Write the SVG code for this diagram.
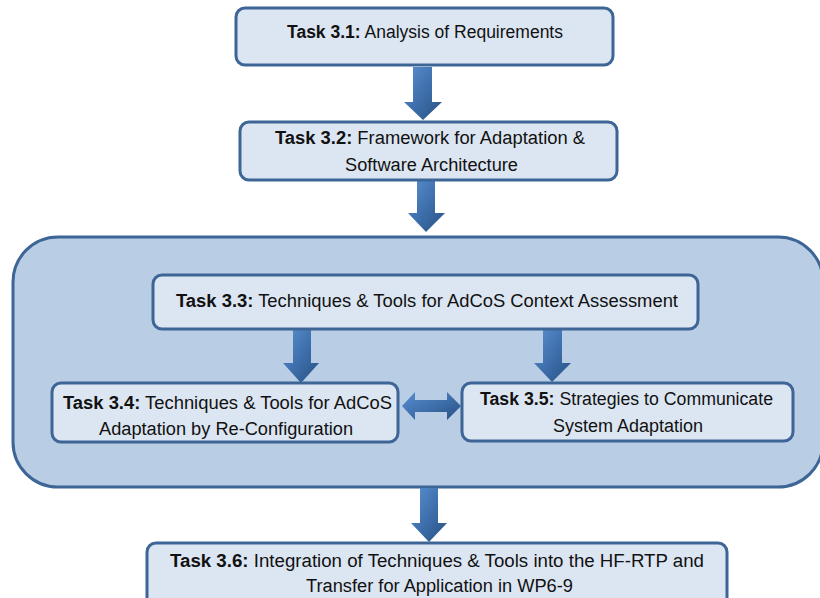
<svg xmlns="http://www.w3.org/2000/svg" width="820" height="598" viewBox="0 0 820 598">
<defs>
<linearGradient id="ag" x1="0" y1="0" x2="1" y2="1">
<stop offset="0" stop-color="#5a8fd0"/>
<stop offset="0.5" stop-color="#3f70ad"/>
<stop offset="1" stop-color="#264f80"/>
</linearGradient>
<style>
.box{fill:#dce6f2;stroke:#3d6596;stroke-width:3}
.cont{fill:#b9cde5;stroke:#3d6596;stroke-width:3}
.arr{fill:url(#ag)}
text{font-family:"Liberation Sans",Arial,sans-serif;font-size:18px;fill:#111;text-anchor:middle}
.b{font-weight:bold}
</style>
</defs>
<rect width="820" height="598" fill="#ffffff"/>
<g id="container">
<rect class="cont" x="13" y="237" width="810" height="250" rx="45"/>
</g>
<g id="connectors">
<polygon class="arr" points="413,67 432,67 432,102 442,102 423,120 404,102 413,102"/>
<polygon class="arr" points="417,180 435,180 435,213 445,213 426,232 408,213 417,213"/>
<polygon class="arr" points="293,329 311,329 311,363 319,363 301,383 283,363 293,363"/>
<polygon class="arr" points="543,329 562,329 562,363 571,363 552,382 534,363 543,363"/>
<polygon class="arr" points="420,488 438,488 438,523 447,523 429,542 411,523 420,523"/>
<polygon class="arr" points="402,406 415,392 415,400 447,400 447,392 461,406 447,420 447,412 415,412 415,420"/>
</g>
<g id="task31">
<rect class="box" x="236" y="8" width="377" height="57" rx="9"/>
<text x="425" y="38" textLength="276" lengthAdjust="spacingAndGlyphs"><tspan class="b">Task 3.1:</tspan> Analysis  of Requirements</text>
</g>
<g id="task32">
<rect class="box" x="240" y="122" width="377" height="58" rx="9"/>
<text x="430" y="144" textLength="310" lengthAdjust="spacingAndGlyphs"><tspan class="b">Task 3.2:</tspan> Framework  for Adaptation  &amp;</text>
<text x="431.5" y="171" textLength="173" lengthAdjust="spacingAndGlyphs">Software Architecture</text>
</g>
<g id="task33">
<rect class="box" x="153" y="275" width="545" height="54" rx="9"/>
<text x="427" y="307" textLength="502" lengthAdjust="spacingAndGlyphs"><tspan class="b">Task 3.3:</tspan> Techniques  &amp; Tools for AdCoS  Context Assessment</text>
</g>
<g id="task34">
<rect class="box" x="52" y="383" width="346" height="59" rx="9"/>
<text x="227.5" y="409" textLength="329" lengthAdjust="spacingAndGlyphs"><tspan class="b">Task 3.4:</tspan> Techniques  &amp; Tools for AdCoS</text>
<text x="226" y="435" textLength="254" lengthAdjust="spacingAndGlyphs">Adaptation  by  Re-Configuration</text>
</g>
<g id="task35">
<rect class="box" x="462" y="383" width="331" height="58" rx="9"/>
<text x="626.5" y="405" textLength="293" lengthAdjust="spacingAndGlyphs"><tspan class="b">Task 3.5:</tspan> Strategies to Communicate</text>
<text x="628" y="432" textLength="150" lengthAdjust="spacingAndGlyphs">System Adaptation</text>
</g>
<g id="task36">
<rect class="box" x="147" y="543" width="580" height="70" rx="9"/>
<text x="437" y="567" textLength="534" lengthAdjust="spacingAndGlyphs"><tspan class="b">Task 3.6:</tspan> Integration  of Techniques  &amp; Tools  into the HF-RTP and</text>
<text x="439.5" y="592" textLength="267" lengthAdjust="spacingAndGlyphs">Transfer for Application  in WP6-9</text>
</g>
</svg>
